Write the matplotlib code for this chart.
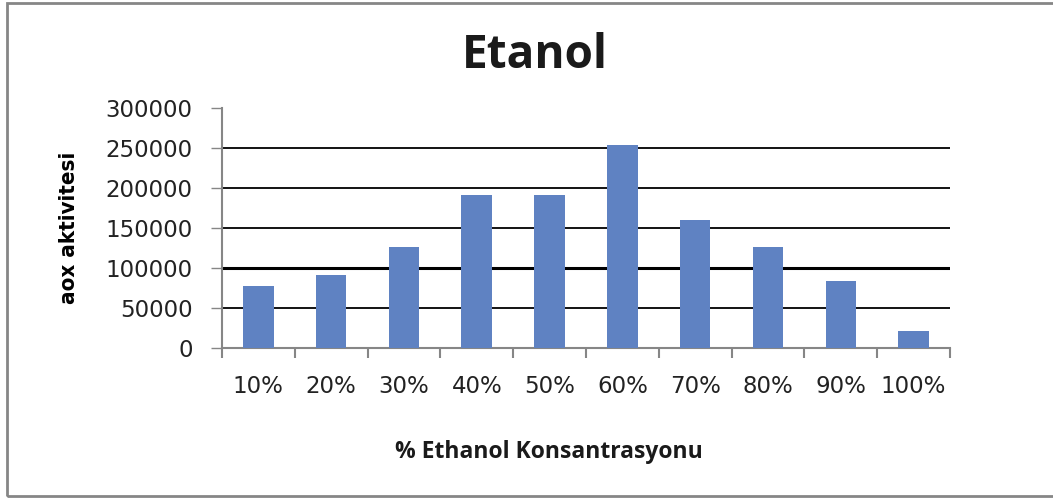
import numpy as np
import matplotlib
matplotlib.use("Agg")
import matplotlib.pyplot as plt
from matplotlib.patches import Rectangle

# data
categories = ["10%", "20%", "30%", "40%", "50%", "60%", "70%", "80%", "90%", "100%"]
aox = [78000, 91500, 126500, 191500, 191500, 254000, 160500, 126500, 84000, 21500]
yticks = [0, 50000, 100000, 150000, 200000, 250000, 300000]

grey = "#868686"
blue = "#5F82C2"

fig = plt.figure(figsize=(10.53, 4.98), dpi=100)
ax = fig.add_axes([0.2108, 0.3006, 0.6914, 0.4819])

x = np.arange(len(categories))
ax.bar(x, aox, width=0.42, color=blue, zorder=3)

ax.set_xlim(-0.5, len(categories) - 0.5)
ax.set_ylim(0, 300000)

# y axis
ax.set_yticks(yticks)
ax.set_yticklabels([str(v) for v in yticks], fontsize=16.5, color="#222222")
ax.tick_params(axis="y", length=8, width=1, color=grey, pad=13)

# x axis: ticks between categories, labels at centres
ax.set_xticks(np.arange(len(categories) + 1) - 0.5)
ax.set_xticklabels([])
ax.tick_params(axis="x", which="major", length=7, width=1.5, color=grey)
ax.set_xticks(x, minor=True)
ax.set_xticklabels(categories, minor=True, fontsize=16.5, color="#222222")
ax.tick_params(axis="x", which="minor", length=0, pad=19)

for s in ["top", "right"]:
    ax.spines[s].set_visible(False)
for s in ["left", "bottom"]:
    ax.spines[s].set_color(grey)
    ax.spines[s].set_linewidth(1.5)

# horizontal gridlines
for v in yticks[1:-1]:
    ax.axhline(v, color="black", lw=2.2 if v == 100000 else 1.3, zorder=2)

fig.text(0.508, 0.889, "Etanol", fontsize=33, fontweight="bold",
         ha="center", va="center", color="#1a1a1a", family="Open Sans")
fig.text(0.521, 0.092, "% Ethanol Konsantrasyonu", fontsize=16.5, fontweight="bold",
         ha="center", va="center", color="#1a1a1a", family="Open Sans")
fig.text(0.066, 0.543, "aox aktivitesi", fontsize=16, fontweight="bold",
         fontstretch="condensed", rotation=90, ha="center", va="center",
         color="black", family="DejaVu Sans")

# outer frame (right side runs off the image)
fig.patches.append(Rectangle((0.0066, 0.004), 1.2, 0.99, transform=fig.transFigure,
                             fill=False, edgecolor=grey, lw=2))

fig.savefig("out.png", dpi=100)
